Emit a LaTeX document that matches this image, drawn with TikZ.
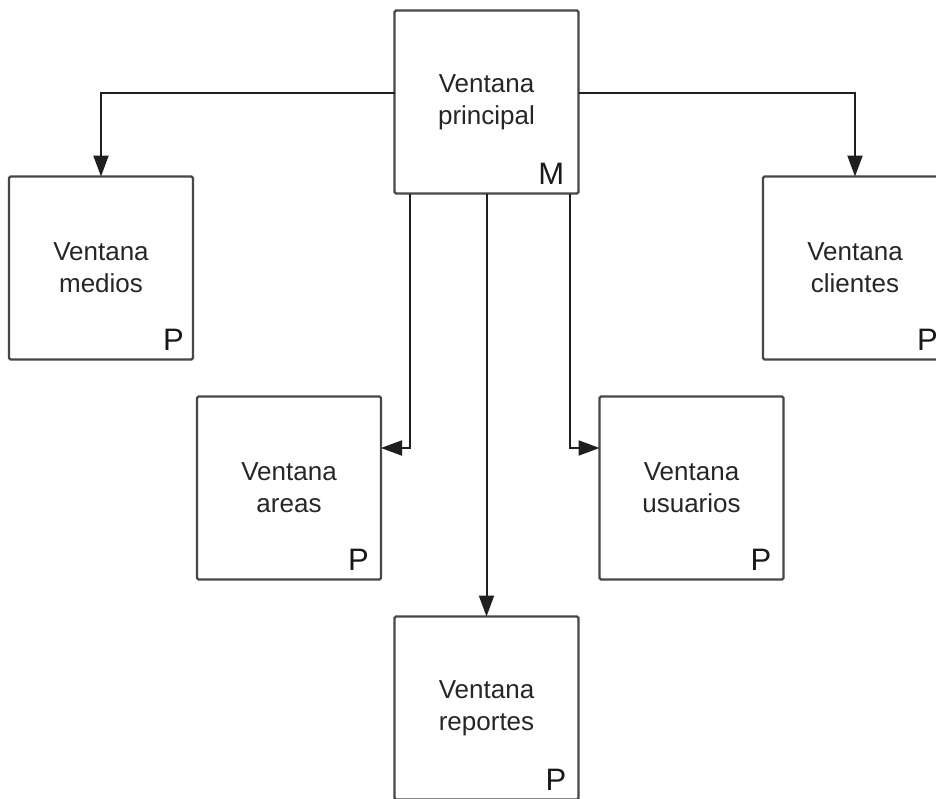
\documentclass[tikz,border=0pt]{standalone}
\usepackage{fontspec}
\setmainfont{Liberation Sans}
\usetikzlibrary{arrows.meta}
\begin{document}
\begin{tikzpicture}[x=1pt,y=-1pt,
  win/.style={draw=black!72, line width=2.2pt, rounded corners=1.5pt, fill=white,
    minimum width=184pt, minimum height=183pt, inner sep=0pt, outer sep=0pt,
    align=center, font=\fontsize{26}{32}\selectfont, text=black!85},
  tag/.style={font=\fontsize{31}{31}\selectfont, text=black!90, inner sep=0pt, anchor=base east},
  link/.style={draw=black!88, line width=2pt, -{Triangle[length=21pt,width=15pt]}}]
\useasboundingbox (0,0) rectangle (936,798);
\clip (0,0) rectangle (936,798);
\fill[white] (0,0) rectangle (936,798);

% windows
\node[win] (main) at (486.5,102) {Ventana\\principal};
\node[win] (medios) at (101,268) {Ventana\\medios};
\node[win] (clientes) at (855,268) {Ventana\\clientes};
\node[win] (areas) at (289,488) {Ventana\\areas};
\node[win] (usuarios) at (691.5,488) {Ventana\\usuarios};
\node[win] (reportes) at (486.5,708) {Ventana\\reportes};

% role tags (yshift is in page units: positive moves up)
\node[tag] (tM) at ([xshift=-14pt,yshift=9pt]main.south east) {M};
\node[tag] (tP1) at ([xshift=-9pt,yshift=9pt]medios.south east) {P};
\node[tag] (tP2) at ([xshift=-9pt,yshift=9pt]clientes.south east) {P};
\node[tag] (tP3) at ([xshift=-12pt,yshift=9pt]areas.south east) {P};
\node[tag] (tP4) at ([xshift=-12pt,yshift=9pt]usuarios.south east) {P};
\node[tag] (tP5) at ([xshift=-12pt,yshift=9pt]reportes.south east) {P};

% connectors
\coordinate (mL) at ([yshift=9pt]main.west);
\coordinate (mR) at ([yshift=9pt]main.east);
\coordinate (bA) at ([xshift=-77pt]main.south);
\coordinate (bU) at ([xshift=83pt]main.south);
\draw[link] (mL) -| (medios.north);
\draw[link] (mR) -| (clientes.north);
\draw[link] (bA) |- ([yshift=40pt]areas.east);
\draw[link] (bU) |- ([yshift=40pt]usuarios.west);
\draw[link] (main.south) -- (reportes.north);
\end{tikzpicture}
\end{document}
